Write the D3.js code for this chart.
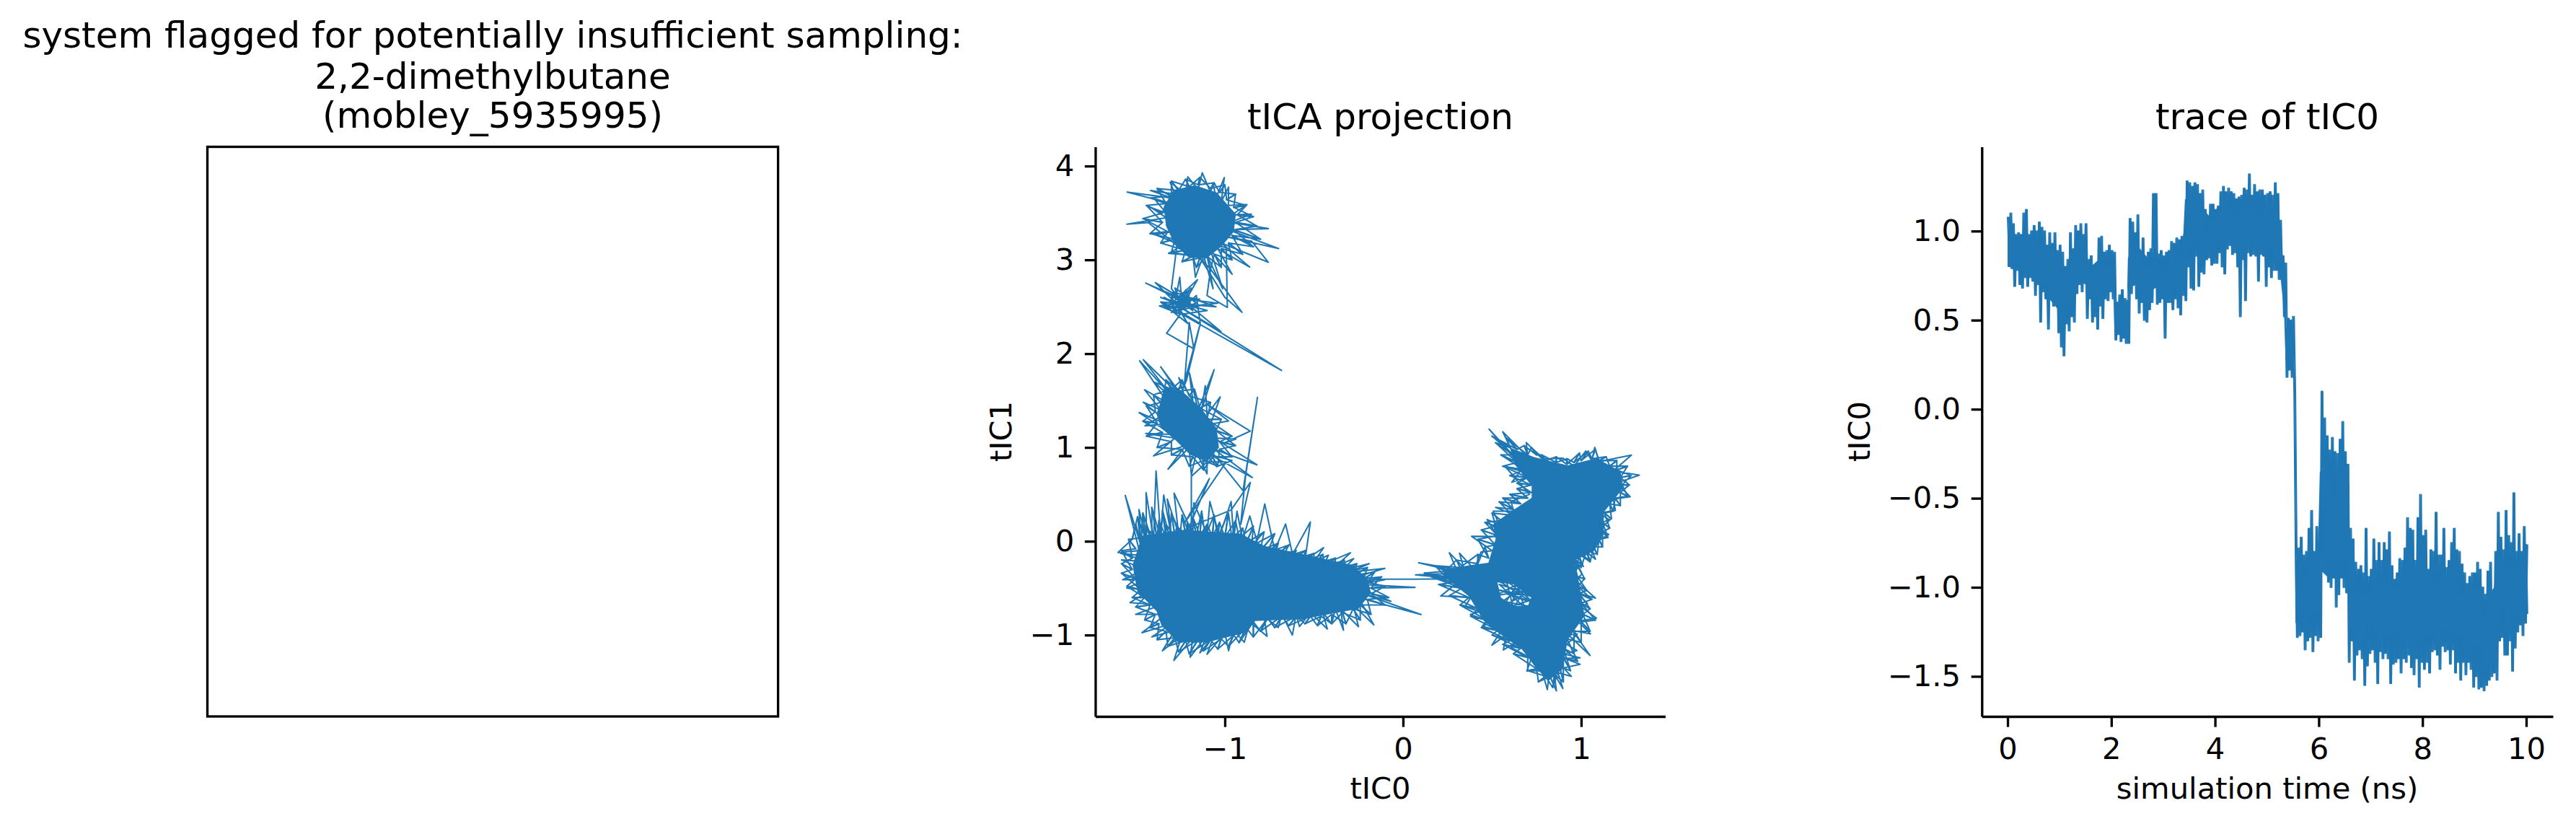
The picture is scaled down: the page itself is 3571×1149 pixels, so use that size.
<!DOCTYPE html>
<html>
<head>
<meta charset="utf-8">
<script src="https://cdnjs.cloudflare.com/ajax/libs/d3/7.8.5/d3.min.js"></script>
<style>
  html, body { margin: 0; padding: 0; background: #fff; }
  text { font-family: "DejaVu Sans", sans-serif; fill: #000; }
  .tick text { font-size: 41.67px; }
</style>
</head>
<body>
<div id="chart"></div>
<script>
// Titles and labels
var titleLeft = ["system flagged for potentially insufficient sampling:", "2,2-dimethylbutane", "(mobley_5935995)"];
var titleProjection = "tICA projection";
var titleTrace = "trace of tIC0";
var projectionTicksX = [-1, 0, 1];
var projectionTicksY = [-1, 0, 1, 2, 3, 4];
var traceTicksX = [0, 2, 4, 6, 8, 10];
var traceTicksY = [-1.5, -1, -0.5, 0, 0.5, 1];

var traceStep = 0.025;
var traceValues = [
  1.08,.88,1.10,.79,1.04,.69,.98,.78,.99,.70,.98,.68,1.10,.74,1.12,.69,.98,.74,1.00,.72,
  1.03,.64,1.00,.70,1.05,.49,1.02,.66,1.00,.62,.92,.45,.99,.62,.93,.58,.99,.60,.89,.43,
  .92,.35,.88,.30,.80,.48,.84,.44,.99,.52,.90,.49,1.03,.65,1.00,.70,1.04,.66,.98,.72,
  1.04,.51,.84,.62,.86,.49,.80,.52,.78,.45,.96,.58,.97,.51,.88,.62,.89,.61,.92,.66,
  .89,.62,.88,.39,.60,.42,.64,.38,.67,.40,.62,.37,.61,.37,1.07,.65,1.05,.70,.99,.62,
  1.09,.54,.88,.60,.96,.50,.85,.49,.88,.56,.90,.60,1.21,.85,1.21,.59,.87,.60,.89,.62,
  .86,.40,.88,.60,.89,.60,.94,.56,.93,.62,.96,.57,.95,.53,.97,.64,.98,.61,1.28,.80,
  1.27,.68,1.25,.67,1.27,.86,1.26,.69,1.21,.77,1.23,.76,1.12,.84,1.08,.85,1.15,.81,1.15,.82,
  1.12,.82,1.14,.88,1.22,.80,1.25,.76,1.22,.90,1.24,.92,1.22,.87,1.21,.88,1.18,.80,1.19,.52,
  1.20,.84,1.24,.61,1.23,.88,1.32,.86,1.20,.87,1.26,.86,1.22,.72,1.23,.87,1.23,.86,1.20,.69,
  1.21,.80,1.22,.74,1.20,.78,1.27,.78,1.21,.73,1.06,.73,.86,.52,.82,.18,.51,.22,.50,.18,
  .52,.09,-.75,-1.28,-.78,-1.27,-.72,-1.25,-.82,-1.35,-.80,-1.30,-.67,-1.28,-.57,-1.36,-.80,-1.27,-.66,-1.30,
  -.80,-1.28,.10,-.80,-.05,-.90,-.15,-.97,-.23,-1.00,-.16,-.92,-.24,-1.11,-.25,-1.04,-.17,-.93,-.07,-1.00,
  -.24,-1.03,-.31,-1.42,-.67,-1.30,-.73,-1.52,-.86,-1.38,-.90,-1.35,-.88,-1.40,-.92,-1.55,-.67,-1.44,-.94,-1.37,
  -.90,-1.35,-.73,-1.42,-.85,-1.54,-.75,-1.36,-.85,-1.40,-.75,-1.37,-.79,-1.40,-.69,-1.54,-.88,-1.43,-.98,-1.42,
  -.92,-1.40,-.84,-1.48,-.85,-1.40,-.78,-1.42,-.61,-1.38,-.67,-1.45,-.68,-1.49,-.85,-1.40,-.61,-1.56,-.48,-1.42,
  -.71,-1.46,-.68,-1.42,-.90,-1.48,-.79,-1.36,-.80,-1.35,-.58,-1.38,-.82,-1.46,-.82,-1.33,-.67,-1.36,-.89,-1.35,
  -.85,-1.43,-.75,-1.35,-.67,-1.48,-.79,-1.42,-.80,-1.52,-.87,-1.42,-.92,-1.49,-.98,-1.42,-.94,-1.46,-.92,-1.56,
  -.92,-1.50,-.86,-1.57,-.90,-1.56,-1.00,-1.58,-1.04,-1.55,-.91,-1.52,-.86,-1.50,-1.04,-1.48,-.80,-1.52,-.58,-1.30,
  -.72,-1.28,-.79,-1.38,-.57,-1.38,-.71,-1.30,-.75,-1.47,-.47,-1.34,-.80,-1.25,-.70,-1.21,-.80,-1.27,-.66,-1.20,
  -.76,-1.15
];

// Where the trace is solid ink: time, lower edge, upper edge
var traceBandTime = [0,.3,.6,.8,1.0,1.2,1.35,1.5,1.6,1.8,2.04,2.06,2.3,2.32,2.5,2.7,2.85,3.0,3.2,3.38,3.42,3.7,3.9,4.1,4.4,4.7,5.0,5.2,5.27,5.33,5.36,5.5,5.52,5.55,5.98,6.02,6.2,6.3,6.5,6.56,6.6,7.0,7.5,7.8,8.2,8.6,8.9,9.2,9.38,9.42,9.7,10];
var traceBandLow = [.80,.78,.72,.62,.55,.60,.72,.70,.62,.65,.68,.45,.45,.68,.70,.65,.68,.68,.70,.75,.88,.90,.92,.95,.95,.95,.92,.85,.72,.55,.28,.28,.28,-1.2,-1.2,-.9,-.95,-.95,-.95,-1.0,-1.3,-1.3,-1.28,-1.3,-1.3,-1.32,-1.4,-1.42,-1.3,-1.15,-1.15,-1.1];
var traceBandHigh = [.98,.97,.95,.85,.80,.80,.95,.88,.80,.85,.85,.60,.58,.85,.92,.85,.85,.85,.90,.93,1.18,1.15,1.08,1.15,1.18,1.18,1.16,1.12,.95,.80,.46,.45,.45,-.85,-.85,-.35,-.35,-.4,-.4,-.6,-.95,-.98,-.95,-.9,-.92,-.98,-1.05,-1.08,-1.0,-.85,-.85,-.85];

// Saturated parts of the projection, where the line is solid ink: outlines as [tIC0, tIC1]
var denseLowerLeft = [[-1.464,.06],[-1.235,.12],[-.911,.08],[-.777,-.05],[-.56,-.14],[-.29,-.25],[-.20,-.40],[-.18,-.55],[-.25,-.72],[-.56,-.83],[-.83,-.85],[-.884,-.974],[-1.10,-1.077],[-1.263,-1.077],[-1.356,-.897],[-1.384,-.744],[-1.491,-.538],[-1.518,-.256]];
var denseMiddle = [[-1.33,1.641],[-1.235,1.59],[-1.141,1.436],[-1.046,1.205],[-1.033,1.0],[-1.10,.846],[-1.195,.923],[-1.276,1.077],[-1.357,1.205],[-1.384,1.359]];
var denseTop = [[-1.289,3.744],[-1.168,3.795],[-1.046,3.718],[-.938,3.487],[-.95,3.30],[-1.02,3.14],[-1.10,3.02],[-1.20,3.02],[-1.28,3.16],[-1.33,3.359],[-1.343,3.564]];
var denseRight = [[.60,1.0],[.735,.898],[.924,.808],[1.086,.885],[1.221,.744],[1.235,.564],[1.127,.308],[1.127,.077],[1.073,-.102],[.965,-.205],[.992,-.487],[1.019,-.795],[.924,-1.051],[.897,-1.359],[.817,-1.487],[.749,-1.359],[.668,-1.154],[.533,-.974],[.452,-.846],[.371,-.59],[.236,-.384],[.223,-.307],[.371,-.256],[.479,-.23],[.52,.026],[.506,.18],[.60,.308],[.722,.462],[.722,.59],[.627,.821]];
var denseRightHole = [[.53,-.44],[.62,-.46],[.72,-.60],[.70,-.69],[.62,-.69],[.55,-.60]];

// Visible trajectory round the saturated parts, as [tIC0, tIC1]
var pathBridge = [[-.10,-.405],[-.24,-.42]];
var pathLowerLeft = [[-1.586,-.128],[-1.42,-.22],[-1.58,-.20],[-1.45,-.30],[-1.573,-.41],[-1.43,-.40],[-1.55,-.50],[-1.42,-.52],[-1.532,-.654],[-1.36,-.68],[-1.50,-.78],[-1.33,-.78],[-1.465,-.975],[-1.30,-.88],[-1.41,-1.02],[-1.28,-.95],[-1.35,-1.167],[-1.24,-1.0],[-1.286,-1.27],[-1.18,-1.03],[-1.195,-1.236],[-1.10,-1.0],[-1.14,-1.19],[-1.06,-1.0],[-1.10,-1.205],[-1.0,-.98],[-.979,-1.167],[-.95,-.95],[-.891,-1.077],[-.86,-.86],[-.763,-1.013],[-.78,-.80],[-.70,-.92],[-.68,-.78],[-.621,-1.0],[-.60,-.78],[-.581,-.91],[-.52,-.76],[-.425,-.936],[-.45,-.76],[-.40,-.88],[-.38,-.72],[-.334,-.949],[-.35,-.72],[-.25,-.91],[-.28,-.68],[-.164,-.892],[-.25,-.60],[.101,-.782],[-.24,-.55],[-.068,-.641],[-.24,-.50],[.067,-.492],[-.24,-.46],[-.102,-.41],[-.26,-.38],[-.102,-.29],[-.30,-.33],[-.19,-.239],[-.34,-.31],[-.277,-.185],[-.38,-.27],[-.295,-.123],[-.44,-.24],[-.419,-.149],[-.50,-.22],[-.446,-.069],[-.55,-.20],[-.52,.205],[-.62,-.14],[-.659,.184],[-.72,-.10],[-.776,.397],[-.82,.0],[-.86,.269],[-.90,.02],[-.932,.32],[-.95,.02],[-.965,.423],[-1.03,.05],[-1.084,.423],[-1.10,.08],[-1.174,.41],[-1.18,.08],[-1.285,.513],[-1.26,.08],[-1.323,.449],[-1.30,.06],[-1.343,.492],[-1.36,.04],[-1.386,.749],[-1.40,.02],[-1.442,.518],[-1.44,.0],[-1.482,.338],[-1.47,-.05],[-1.559,.487],[-1.48,-.1],[-1.60,-.12]];
var fringeLowerLeft = [[-1.52,.02],[-1.50,.18],[-1.47,-.02],[-1.49,.26],[-1.44,.0],[-1.46,.30],[-1.41,.02],[-1.44,.14],[-1.38,.03],[-1.41,.36],[-1.36,.03],[-1.37,.22],[-1.33,.04],[-1.35,.33],[-1.31,.05],[-1.33,.18],[-1.28,.05],[-1.30,.30],[-1.25,.08],[-1.27,.16],[-1.22,.07],[-1.24,.28],[-1.20,.08],[-1.21,.20],[-1.16,.06],[-1.18,.26],[-1.14,.06],[-1.13,.32],[-1.11,.05],[-1.10,.18],[-1.07,.05],[-1.06,.28],[-1.04,.04],[-1.03,.20],[-1.0,.04],[-.98,.30],[-.96,.03],[-.94,.22],[-.92,.03],[-.90,.14],[-.88,-.02],[-.84,.16],[-.85,-.05],[-.78,.10],[-.80,-.10],[-.72,.08],[-.76,-.12],[-.70,-.02],[-.72,-.16],[-.64,-.04],[-.68,-.18],[-.60,-.10],[-.62,-.20],[-.55,-.10],[-.56,-.22],[-.50,-.13],[-.50,-.25],[-.45,-.14],[-.44,-.28],[-.38,-.18],[-.38,-.30],[-.33,-.20],[-.32,-.33],[-.26,-.24],[-.27,-.36],[-.20,-.28],[-.22,-.40],[-.16,-.33],[-.20,-.44],[-.12,-.38],[-.18,-.50],[-.10,-.48],[-.18,-.56],[-.08,-.60],[-.20,-.62],[-.10,-.68],[-.24,-.68],[-.18,-.78],[-.28,-.72],[-.24,-.84],[-.34,-.76],[-.32,-.88],[-.40,-.78],[-.40,-.88],[-.46,-.80],[-.48,-.90],[-.52,-.80],[-.55,-.88],[-.60,-.80],[-.64,-.90],[-.68,-.80],[-.72,-.92],[-.76,-.82],[-.80,-.96],[-.84,-.86],[-.84,-1.02],[-.88,-.92],[-.92,-1.08],[-.95,-1.0],[-.98,-1.12],[-1.02,-1.04],[-1.04,-1.15],[-1.08,-1.05],[-1.12,-1.17],[-1.15,-1.05],[-1.20,-1.2],[-1.22,-1.06],[-1.26,-1.18],[-1.28,-1.03],[-1.32,-1.12],[-1.33,-.96],[-1.38,-1.05],[-1.37,-.88],[-1.42,-.92],[-1.39,-.78],[-1.45,-.84],[-1.42,-.68],[-1.50,-.70],[-1.45,-.60],[-1.52,-.60],[-1.47,-.52],[-1.55,-.48],[-1.50,-.40],[-1.58,-.34],[-1.52,-.30],[-1.58,-.24],[-1.52,-.18],[-1.58,-.10],[-1.50,-.08],[-1.54,.02]];
var pathLinks = [[-1.188,.10],[-1.188,.692],[-1.10,.846],[-.992,.846],[-1.222,.205],[-1.087,.667],[-1.20,.15],[-.965,.333],[-.857,.628],[-.911,.18],[-.884,.692],[-.817,1.533],[-.898,.538],[-1.05,.90]];
var pathMiddle = [[-1.33,1.5],[-1.478,1.923],[-1.30,1.55],[-1.458,1.936],[-1.25,1.55],[-1.36,1.859],[-1.22,1.5],[-1.258,1.744],[-1.18,1.5],[-1.199,1.795],[-1.15,1.4],[-1.06,1.828],[-1.13,1.4],[-1.11,1.659],[-1.10,1.35],[-1.026,1.538],[-1.08,1.25],[-.979,1.282],[-1.10,1.46],[-.857,1.174],[-1.00,1.05],[-.938,1.09],[-1.06,1.1],[-.82,.815],[-1.06,.98],[-.846,.679],[-1.08,.92],[-.96,.86],[-1.046,.795],[-1.10,.92],[-1.10,.718],[-1.16,.95],[-1.188,.705],[-1.20,1.0],[-1.319,.769],[-1.22,1.02],[-1.4,.91],[-1.28,1.1],[-1.444,1.149],[-1.30,1.14],[-1.481,1.372],[-1.33,1.25],[-1.448,1.231],[-1.36,1.33],[-1.458,1.482],[-1.36,1.40],[-1.451,1.615],[-1.30,1.45]];
var fringeMiddle = [[-1.34,1.60],[-1.40,1.70],[-1.30,1.62],[-1.33,1.72],[-1.26,1.60],[-1.24,1.72],[-1.20,1.55],[-1.17,1.62],[-1.14,1.42],[-1.08,1.48],[-1.10,1.30],[-1.02,1.30],[-1.05,1.18],[-.96,1.12],[-1.03,1.06],[-.94,1.02],[-1.03,.98],[-.96,.90],[-1.07,.90],[-1.04,.80],[-1.12,.86],[-1.12,.76],[-1.18,.90],[-1.20,.80],[-1.24,.98],[-1.30,.92],[-1.30,1.06],[-1.38,1.0],[-1.35,1.16],[-1.44,1.12],[-1.38,1.26],[-1.46,1.28],[-1.39,1.38],[-1.44,1.44],[-1.36,1.48],[-1.40,1.56],[-1.34,1.60]];
var pathMiddleUp = [[-1.228,1.641],[-1.2,2.333]];
var pathSmall = [[-1.174,2.051],[-1.327,2.218],[-1.25,2.42],[-1.367,2.508],[-1.20,2.55],[-1.444,2.752],[-1.15,2.48],[-1.39,2.757],[-1.28,2.55],[-1.253,2.815],[-1.24,2.5],[-1.154,2.787],[-1.33,2.48],[-1.04,2.538],[-1.30,2.60],[-1.208,2.321],[-1.36,2.55],[-1.05,2.5],[-1.29,2.66],[-1.022,2.236],[-1.34,2.6],[-.682,1.821],[-1.26,2.44],[-1.16,2.62],[-1.138,2.321],[-1.215,1.718],[-1.24,1.6],[-1.138,2.321],[-1.30,2.50],[-1.19,2.70],[-1.269,2.45],[-1.34,2.54],[-1.14,2.58],[-1.30,2.62],[-1.18,2.46],[-1.22,2.68],[-1.26,2.46],[-1.12,2.52],[-1.34,2.50],[-1.20,2.62],[-1.30,2.44],[-1.16,2.54],[-1.28,2.70],[-1.24,2.42],[-1.10,2.46],[-1.36,2.60],[-1.22,2.50],[-1.30,2.692]];
var pathTop = [[-1.269,3.154],[-1.43,3.397],[-1.55,3.38],[-1.33,3.45],[-1.407,3.551],[-1.33,3.5],[-1.397,3.654],[-1.30,3.6],[-1.548,3.723],[-1.30,3.66],[-1.417,3.739],[-1.28,3.7],[-1.307,3.828],[-1.22,3.7],[-1.208,3.885],[-1.15,3.75],[-1.127,3.928],[-1.08,3.72],[-1.066,3.821],[-1.05,3.66],[-1.003,3.877],[-1.02,3.62],[-.979,3.775],[-.98,3.58],[-.876,3.59],[-.96,3.48],[-.851,3.487],[-.97,3.40],[-.756,3.333],[-.98,3.32],[-.698,3.121],[-1.00,3.25],[-.85,3.2],[-.756,2.974],[-1.02,3.18],[-.861,2.923],[-1.04,3.12],[-.959,2.846],[-1.08,3.1],[-1.012,2.692],[-1.10,3.05],[-1.066,2.692],[-1.12,3.05],[-1.165,2.815],[-1.18,3.05],[-1.316,3.069],[-1.24,3.15],[-1.39,3.269],[-1.30,3.3],[-.992,3.128],[-.986,2.492],[-1.10,2.62],[-1.08,2.9],[-.904,2.441],[-1.0,2.6]];
var fringeTop = [[-1.33,3.60],[-1.42,3.66],[-1.30,3.68],[-1.38,3.76],[-1.26,3.74],[-1.30,3.84],[-1.20,3.78],[-1.22,3.86],[-1.15,3.80],[-1.14,3.88],[-1.08,3.76],[-1.06,3.82],[-1.03,3.72],[-1.0,3.80],[-.99,3.64],[-.94,3.70],[-.95,3.56],[-.88,3.58],[-.93,3.48],[-.84,3.46],[-.94,3.40],[-.82,3.36],[-.95,3.32],[-.80,3.22],[-.96,3.26],[-.84,3.14],[-.98,3.18],[-.90,3.06],[-1.02,3.12],[-.96,3.0],[-1.06,3.06],[-1.02,2.92],[-1.10,3.04],[-1.08,2.90],[-1.14,3.02],[-1.16,2.92],[-1.18,3.04],[-1.24,2.98],[-1.22,3.10],[-1.30,3.08],[-1.28,3.22],[-1.36,3.18],[-1.32,3.30],[-1.42,3.28],[-1.35,3.40],[-1.46,3.44],[-1.35,3.50],[-1.44,3.58],[-1.33,3.60]];
var pathRight = [[.061,-.405],[.30,-.40],[.07,-.359],[.33,-.34],[.088,-.23],[.30,-.30],[.26,-.123],[.34,-.28],[.317,-.128],[.40,-.30],[.438,-.115],[.50,-.1],[.385,.052],[.53,.05],[.472,.231],[.54,.18],[.506,.321],[.62,.32],[.607,.423],[.71,.50],[.574,.795],[.66,.75],[.611,.629],[.72,.70],[.483,1.195],[.64,.85],[.56,1.167],[.70,.90],[.692,1.052],[.78,.88],[.897,.885],[.96,.80],[1.026,.962],[1.06,.86],[1.076,1.0],[1.10,.85],[1.282,.918],[1.18,.75],[1.326,.705],[1.20,.62],[1.275,.475],[1.18,.45],[1.192,.329],[1.10,.30],[1.161,.226],[1.10,.12],[1.154,.072],[1.05,-.05],[1.08,-.192],[1.02,-.10],[1.052,-.205],[.98,-.12],[1.012,-.269],[.97,-.2],[.978,-.295],[.98,-.25],[1.005,-.346],[.97,-.42],[1.08,-.607],[.98,-.55],[1.035,-.666],[1.0,-.7],[1.086,-.82],[.98,-.85],[1.052,-.987],[.95,-.95],[1.05,-1.218],[.93,-1.0],[.978,-.987],[.92,-1.1],[.976,-1.166],[.90,-1.2],[.994,-1.243],[.91,-1.25],[.994,-1.312],[.90,-1.35],[.945,-1.441],[.87,-1.4],[.897,-1.569],[.85,-1.42],[.861,-1.595],[.82,-1.42],[.81,-1.582],[.78,-1.38],[.695,-1.384],[.72,-1.25],[.607,-1.133],[.63,-1.08],[.563,-1.159],[.58,-1.0],[.499,-1.107],[.55,-.96],[.452,-.91],[.48,-.85],[.378,-.782],[.43,-.75],[.348,-.697],[.38,-.6],[.212,-.584],[.30,-.45],[.52,-.40],[.78,-.72],[.56,-.64],[.70,-.45],[.62,-.72],[.58,-.42],[.74,-.66],[.54,-.52],[.76,-.60],[.60,-.70],[.66,-.44],[.52,-.58],[.72,-.52],[.56,-.70],[.64,-.46],[.68,-.70],[.54,-.46],[.74,-.58],[.58,-.56],[.70,-.64]];
var fringeRight = [[.60,.30],[.52,.36],[.62,.34],[.54,.42],[.66,.40],[.56,.46],[.70,.46],[.60,.50],[.72,.52],[.64,.56],[.72,.60],[.64,.62],[.70,.68],[.60,.70],[.68,.76],[.56,.80],[.64,.84],[.55,.92],[.62,.92],[.52,1.05],[.60,1.0],[.50,1.12],[.64,.98],[.58,1.1],[.70,.92],[.68,1.02],[.75,.92],[.72,1.0],[.80,.86],[.78,.92],[.86,.84],[.86,.90],[.92,.82],[.92,.88],[.96,.84],[.99,.94],[1.0,.86],[1.04,.96],[1.06,.88],[1.08,.98],[1.10,.86],[1.14,.90],[1.16,.80],[1.20,.86],[1.20,.76],[1.26,.80],[1.22,.68],[1.28,.70],[1.23,.60],[1.27,.60],[1.22,.52],[1.26,.48],[1.19,.46],[1.22,.38],[1.16,.40],[1.18,.32],[1.13,.30],[1.17,.24],[1.12,.20],[1.16,.14],[1.12,.10],[1.15,.04],[1.10,.02],[1.12,-.06],[1.07,-.06],[1.09,-.14],[1.03,-.10],[1.05,-.22],[.99,-.14],[1.0,-.28],[.96,-.20],[.97,-.32],[.98,-.38],[1.02,-.40],[.98,-.48],[1.03,-.52],[.99,-.56],[1.06,-.62],[1.0,-.66],[1.05,-.72],[1.01,-.78],[1.08,-.84],[1.0,-.86],[1.05,-.96],[.96,-.96],[1.0,-1.08],[.92,-1.04],[.96,-1.2],[.90,-1.14],[.98,-1.28],[.90,-1.24],[.94,-1.38],[.88,-1.34],[.90,-1.5],[.85,-1.42],[.84,-1.56],[.80,-1.44],[.76,-1.5],[.75,-1.36],[.70,-1.38],[.70,-1.24],[.62,-1.2],[.66,-1.14],[.56,-1.1],[.60,-1.06],[.50,-1.0],[.53,-.95],[.44,-.92],[.47,-.84],[.38,-.80],[.42,-.72],[.32,-.68],[.37,-.60],[.26,-.58],[.33,-.50],[.20,-.46],[.28,-.44],[.16,-.38],[.24,-.38],[.12,-.34],[.24,-.32],[.18,-.26],[.32,-.28],[.30,-.20],[.42,-.24],[.42,-.14],[.48,-.18],[.46,-.06],[.52,-.04],[.42,.02],[.53,.06],[.44,.12],[.52,.16],[.46,.20],[.55,.22],[.50,.30],[.60,.28]];

var svgWidth = 3571;
var svgHeight = 1149;
var plotTop = 203.5;
var plotBottom = 993;
var lineColor = "#1f77b4";

var svg = d3.select("#chart").append("svg")
    .attr("width", svgWidth)
    .attr("height", svgHeight)
    .style("display", "block");

// Spines and ticks, matplotlib sizes at 300 dpi
function drawAxis(group, axis) {
    group.call(axis);
    group.selectAll("path, line").attr("stroke", "#000").attr("stroke-width", 3.33);
}

function addTitle(text, x, y) {
    svg.append("text").attr("x", x).attr("y", y)
        .attr("text-anchor", "middle").attr("font-size", 50).text(text);
}

function addLabel(text, x, y, rotate) {
    var label = svg.append("text").attr("text-anchor", "middle").attr("font-size", 41.67).text(text);
    if (rotate) {
        label.attr("transform", `translate(${x}, ${y}) rotate(-90)`);
    } else {
        label.attr("x", x).attr("y", y);
    }
}

function addStroke(d) {
    svg.append("path")
        .attr("d", d)
        .attr("fill", "none")
        .attr("stroke", lineColor)
        .attr("stroke-width", 2.08)
        .attr("stroke-linejoin", "round");
}

// Left panel: empty box with the flag text
var boxLeft = 287.5, boxRight = 1078.6;
svg.append("rect")
    .attr("x", boxLeft).attr("y", plotTop)
    .attr("width", boxRight - boxLeft).attr("height", plotBottom - plotTop)
    .attr("fill", "none").attr("stroke", "#000").attr("stroke-width", 3.33);
var titleBaselines = [66, 123, 177];
titleLeft.forEach(function(t, i) {
    addTitle(t, (boxLeft + boxRight) / 2, titleBaselines[i]);
});

// Middle panel: tICA projection
var xProjection = d3.scaleLinear().domain([-1.727, 1.472]).range([1518.4, 2308.5]);
var yProjection = d3.scaleLinear().domain([-1.868, 4.205]).range([plotBottom, plotTop]);
var projectionLine = d3.line().x(d => xProjection(d[0])).y(d => yProjection(d[1]));

[denseLowerLeft, denseMiddle, denseTop].forEach(function(region) {
    svg.append("path")
        .attr("d", projectionLine(region) + "Z")
        .attr("fill", lineColor);
});
svg.append("path")
    .attr("d", projectionLine(denseRight) + "Z" + projectionLine(denseRightHole) + "Z")
    .attr("fill", lineColor)
    .attr("fill-rule", "evenodd");

var trajectory = fringeRight.concat(pathRight.slice().reverse(), pathBridge, pathLowerLeft, fringeLowerLeft,
    pathLinks, pathMiddle, fringeMiddle, pathMiddleUp, pathSmall, pathTop, fringeTop);
addStroke(projectionLine(trajectory));

// Same fringe points crossed over, the reference is much denser at the blob edges
[fringeRight, fringeLowerLeft, fringeMiddle, fringeTop].forEach(function(fringe) {
    var crossed = fringe.map((d, i) => i % 2 ? fringe[Math.min(i + 2, fringe.length - 1)] : d);
    addStroke(projectionLine(crossed));
});

drawAxis(svg.append("g").attr("transform", `translate(0, ${plotBottom})`),
    d3.axisBottom(xProjection).tickValues(projectionTicksX).tickSizeInner(14.6).tickSizeOuter(0).tickPadding(14.6).tickFormat(d3.format("d")));
drawAxis(svg.append("g").attr("transform", "translate(1518.4, 0)"),
    d3.axisLeft(yProjection).tickValues(projectionTicksY).tickSizeInner(14.6).tickSizeOuter(0).tickPadding(14.6).tickFormat(d3.format("d")));
addTitle(titleProjection, 1913.5, 179);
addLabel("tIC0", 1913.5, 1107);
addLabel("tIC1", 1402, 598, true);

// Right panel: trace of tIC0
var xTrace = d3.scaleLinear().domain([-0.497, 10.515]).range([2747.3, 3539]);
var yTrace = d3.scaleLinear().domain([-1.725, 1.473]).range([plotBottom, plotTop]);
var traceLine = d3.line().x((d, i) => xTrace(i * traceStep)).y(d => yTrace(d));
var traceBand = d3.area()
    .x((d, i) => xTrace(traceBandTime[i]))
    .y0((d, i) => yTrace(traceBandLow[i]))
    .y1((d, i) => yTrace(traceBandHigh[i]));

svg.append("path")
    .attr("d", traceBand(traceBandTime))
    .attr("fill", lineColor);
addStroke(traceLine(traceValues));
// Second stroke one step later closes the gaps between the up and down strokes
var traceWeave = d3.line()
    .x((d, i) => xTrace((i + 1) * traceStep))
    .y(d => yTrace(d));
addStroke(traceWeave(traceValues.slice(0, -1)));

drawAxis(svg.append("g").attr("transform", `translate(0, ${plotBottom})`),
    d3.axisBottom(xTrace).tickValues(traceTicksX).tickSizeInner(14.6).tickSizeOuter(0).tickPadding(14.6).tickFormat(d3.format("d")));
drawAxis(svg.append("g").attr("transform", "translate(2747.3, 0)"),
    d3.axisLeft(yTrace).tickValues(traceTicksY).tickSizeInner(14.6).tickSizeOuter(0).tickPadding(14.6).tickFormat(d3.format(".1f")));
addTitle(titleTrace, 3143, 179);
addLabel("simulation time (ns)", 3143, 1107);
addLabel("tIC0", 2592, 598, true);
</script>
</body>
</html>
